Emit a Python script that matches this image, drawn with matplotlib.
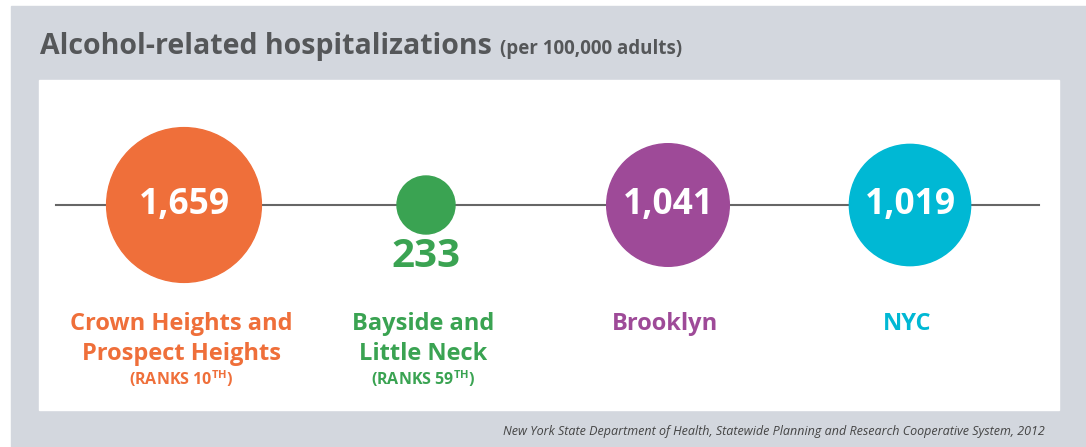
import numpy as np
import matplotlib
matplotlib.use('Agg')
import matplotlib.pyplot as plt
from matplotlib.patches import Circle, Rectangle

# Data
areas = ['Crown Heights and\nProspect Heights', 'Bayside and\nLittle Neck', 'Brooklyn', 'NYC']
values = [1659, 233, 1041, 1019]
ranks = ['10', '59', None, None]
colors = ['#EF6F3A', '#3AA352', '#9E4A98', '#00B8D4']

title = 'Alcohol-related hospitalizations'
subtitle = '(per 100,000 adults)'
source = 'New York State Department of Health, Statewide Planning and Research Cooperative System, 2012'

plt.rcParams['font.family'] = ['Open Sans', 'DejaVu Sans']
plt.rcParams['mathtext.fontset'] = 'custom'
plt.rcParams['mathtext.bf'] = 'Open Sans:bold'
plt.rcParams['mathtext.rm'] = 'Open Sans:bold'

fig = plt.figure(figsize=(10.86, 4.47), dpi=100)
ax = fig.add_axes([0, 0, 1, 1])
ax.set_xlim(0, 1086)
ax.set_ylim(447, 0)
ax.axis('off')

# Panels
ax.add_patch(Rectangle((11, 6), 1086 - 11, 447 - 6, color='#D3D7DE', zorder=0))
ax.add_patch(Rectangle((39, 80), 1059 - 39, 410 - 80, color='white', zorder=1))

# Title
t = ax.text(40, 54, title, fontsize=20.5, fontweight='bold', color='#555759',
            va='baseline', ha='left')
fig.canvas.draw()
bb = t.get_window_extent()
x_end = ax.transData.inverted().transform((bb.x1, bb.y0))[0]
ax.text(x_end + 8, 54, subtitle, fontsize=13.5, fontweight='bold', color='#555759',
        va='baseline', ha='left')

# Horizontal line
line_y = 205
ax.plot([56, 1039], [line_y, line_y], color='#666666', lw=1.5, zorder=2)

# Circles (area proportional to value)
x0, step = 184, 242
scale = 1.9
for i, (name, v, rk, c) in enumerate(zip(areas, values, ranks, colors)):
    cx = x0 + i * step
    r = scale * np.sqrt(v)
    ax.add_patch(Circle((cx, line_y), r, color=c, zorder=3))
    label = f'{v:,}'
    if r > 45:
        ax.text(cx, line_y, label, fontsize=25.5, fontweight='bold', color='white',
                ha='center', va='center', zorder=4)
    else:
        ax.text(cx, line_y + r + 22, label, fontsize=29, fontweight='bold', color=c,
                ha='center', va='center', zorder=4)
    ax.text(cx - 3, 312, name, fontsize=17, fontweight='bold', color=c,
            ha='center', va='top', linespacing=1.32, zorder=4)
    if rk:
        ax.text(cx - 3, 379, r'(RANKS ' + rk + r'$^{\mathbf{TH}}$)', fontsize=11.5,
                fontweight='bold', color=c, ha='center', va='center', zorder=4)

# Source
ax.text(1045, 431, source, fontsize=9, style='italic', color='#444444',
        ha='right', va='center', zorder=4)

fig.savefig('out.png', dpi=100)
